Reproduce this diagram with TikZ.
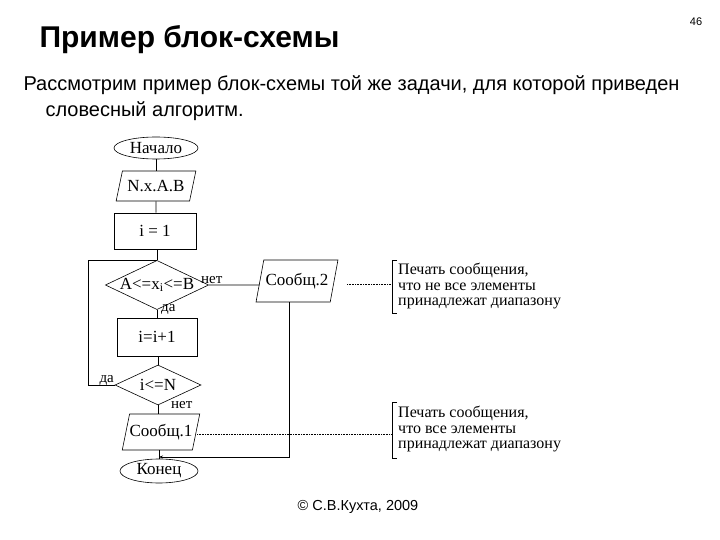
\documentclass[tikz,border=0pt]{standalone}
\usepackage{fontspec}
\setmainfont{Liberation Serif}
\newfontfamily\arial{Liberation Sans}
\usetikzlibrary{shapes.geometric,arrows.meta}
\begin{document}
\begin{tikzpicture}[x=1pt,y=-1pt,
  blk/.style={draw,line width=0.6pt,font=\fontsize{17}{18}\selectfont,inner sep=0pt},
  term/.style={blk,ellipse,minimum width=84pt,minimum height=22pt},
  io/.style={blk,trapezium,trapezium left angle=65,trapezium right angle=115,minimum height=30pt,trapezium stretches=true},
  proc/.style={blk,rectangle,minimum width=82pt,minimum height=36pt},
  dec/.style={blk,diamond,aspect=2.1,minimum width=86pt,minimum height=40pt,inner sep=0pt},
  ln/.style={line width=0.6pt},
  dot/.style={densely dotted,line width=0.6pt},
  lab/.style={font=\fontsize{15}{16}\selectfont,inner sep=1pt},
  note/.style={align=left,font=\fontsize{16}{15.5}\selectfont,anchor=north west,inner sep=0pt}]
\useasboundingbox (0,0) rectangle (720,540);
\fill[white] (0,0) rectangle (720,540);
\node[font=\arial\bfseries\fontsize{30}{30}\selectfont,anchor=west] (title) at (36,40) {Пример блок-схемы};
\node[font=\arial\fontsize{11}{12}\selectfont] (num) at (696,22) {46};
\node[font=\arial\fontsize{20}{26}\selectfont,anchor=north west,align=left] (txt) at (20,72)
 {Рассмотрим пример блок-схемы той же задачи, для которой приведен\\\hspace*{22pt}словесный алгоритм.};
\node[font=\arial\fontsize{14.5}{15}\selectfont] (foot) at (358,507) {© С.В.Кухта, 2009};

\node[term] (start) at (156,148) {Начало};
\node[io,minimum width=80pt] (inp) at (156,186) {N.x.A.B};
\node[proc] (i1) at (155,231) {i = 1};
\node[dec] (d1) at (157,285) {A<=x$_{\mathrm i}$<=B};
\node[io,minimum width=82pt,minimum height=42pt] (s2) at (297,281) {Сообщ.2};
\node[proc,minimum height=38pt,minimum width=80pt] (inc) at (157,337) {i=i+1};
\node[dec] (d2) at (158,385) {i<=N};
\node[io,minimum width=64pt,minimum height=36pt] (s1) at (161,432) {Сообщ.1};
\node[term,minimum width=78pt,minimum height=24pt] (end) at (159,471) {Конец};

\coordinate (top) at (157,260);
\coordinate (lt) at (88,260);
\coordinate (lb) at (88,385);
\coordinate (j) at (159,457);
\coordinate (sb) at (289,457);
\draw[ln] (start) -- (inp);
\draw[ln] (inp) -- (inp|-i1.north);
\draw[ln] (i1.south -| top) -- (d1.north);
\draw[ln] (d2.west) -- (lb) -- (lt) -- (top);
\draw[ln] (d1.east) -- (s2.west |- d1.east) -- (s2);
\draw[ln] (d1.south) -- (inc.north -| d1.south);
\draw[ln] (inc.south -| d2.north) -- (d2.north);
\draw[ln] (d2.south) -- (s1.north -| d2.south);
\draw[ln] (s1.south -| j) -- (end.north -| j);
\draw[ln,-{Stealth[length=4pt]}] (289,302) -- (sb) -- (j);

\node[lab,anchor=south west] (net1) at (200,285) {нет};
\node[lab,anchor=north west] (da1) at (160,303) {да};
\node[lab,anchor=south east] (da2) at (115,387) {да};
\node[lab,anchor=north west] (net2) at (170,400) {нет};

\draw[ln] (397,260) -- (392,260) -- (392,313) -- (397,313);
\draw[dot] (347,284) -- (392,284);
\node[note] (n1) at (398,263) {Печать сообщения,\\что не все элементы\\принадлежат диапазону};
\draw[ln] (397,402) -- (392,402) -- (392,458) -- (397,458);
\draw[dot] (197,434) -- (392,434);
\node[note] (n2) at (398,406) {Печать сообщения,\\что все элементы\\принадлежат диапазону};
\end{tikzpicture}
\end{document}
